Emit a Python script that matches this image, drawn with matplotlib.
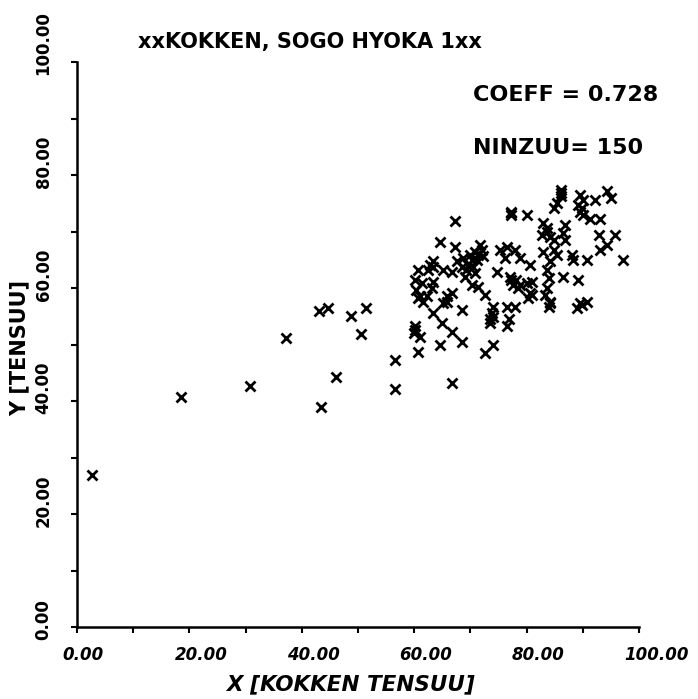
import matplotlib
matplotlib.use("Agg")
import matplotlib.pyplot as plt
from matplotlib.transforms import ScaledTranslation

# kokken tensuu (x) / sogo hyoka tensuu (y)
xs = [2.7, 18.5, 30.8, 37.2, 43.1, 44.7, 48.8, 51.4, 50.5, 46.1, 43.4,
      56.6, 66.7, 56.6,
      86.1, 86.2, 85.4, 84.8, 89.5, 90.1, 89.2, 89.5, 90.1, 92.2, 94.3, 95.1,
      91.3, 93.1, 77.3, 77.3, 80.0, 67.3, 83.0, 83.6, 82.7, 84.2, 84.8, 86.8,
      86.5, 86.8, 92.8, 95.7, 93.1, 94.3, 97.2, 64.6, 67.3, 63.4, 62.8, 60.7,
      60.1, 60.4, 61.0, 61.6, 62.5, 65.2, 66.7, 67.6, 68.7, 69.9, 70.8, 71.7,
      72.0, 71.1, 70.5, 69.3, 69.0, 70.2, 71.4, 72.6, 63.4, 63.1, 65.8, 65.2,
      66.7, 68.5, 75.3, 76.5, 77.9, 76.2, 78.8, 80.6, 74.7, 77.1, 78.2, 77.6,
      78.5, 80.0, 80.9, 80.6, 80.3, 83.0, 84.8, 85.4, 84.2, 83.6, 83.9, 83.6,
      83.3, 84.2, 83.9, 86.5, 88.0, 88.3, 89.2, 90.7, 89.5, 90.7, 88.9, 63.4,
      64.9, 66.7, 64.6, 68.5, 60.7, 60.1, 59.9, 61.0, 74.1, 73.8, 73.5, 74.1,
      76.5, 77.9, 76.8, 76.5, 72.6, 74.1,
      70.2, 69.6, 71.4, 68.5, 72.3, 70.8, 61.3, 60.7, 62.2, 77.3, 78.8, 80.9,
      63.4, 65.8, 86.2, 89.8, 83.6, 73.5, 60.1, 89.8, 84.2, 77.3]
ys = [26.9, 40.7, 42.7, 51.1, 55.9, 56.5, 55.0, 56.5, 51.9, 44.2, 38.9,
      47.3, 43.1, 42.2,
      77.4, 76.2, 75.0, 74.1, 76.5, 75.6, 74.7, 73.5, 72.9, 75.6, 77.1, 75.9,
      72.3, 72.3, 73.5, 72.9, 72.9, 71.8, 71.5, 70.6, 69.4, 69.1, 68.5, 71.2,
      69.7, 68.5, 69.4, 69.4, 66.7, 67.6, 65.0, 68.2, 67.3, 64.7, 64.1, 63.2,
      61.4, 59.7, 58.5, 57.6, 63.2, 63.2, 62.9, 64.7, 65.3, 65.9, 66.4, 67.6,
      66.7, 65.0, 63.8, 63.2, 62.0, 60.5, 60.2, 58.8, 61.1, 60.0, 58.5, 57.3,
      59.1, 56.1, 66.7, 67.3, 66.7, 65.3, 65.3, 64.1, 62.9, 62.0, 61.4, 60.5,
      60.0, 60.8, 61.1, 59.1, 58.2, 66.4, 66.7, 65.9, 64.7, 63.2, 61.7, 60.0,
      58.8, 57.6, 56.7, 62.0, 65.9, 65.0, 61.4, 65.0, 57.3, 57.6, 56.4, 55.5,
      53.8, 52.3, 49.9, 50.5, 48.7, 53.2, 52.0, 51.4, 56.7, 55.5, 53.8, 54.9,
      56.7, 56.7, 54.6, 53.2, 48.5, 49.9,
      65.0, 64.1, 65.9, 63.8, 65.6, 62.6, 60.8, 58.2, 58.5, 61.4, 60.5, 58.8,
      63.8, 57.6, 76.8, 74.1, 70.0, 54.6, 52.6, 57.0, 57.3, 73.2]

major_ticks = [0, 20, 40, 60, 80, 100]
minor_ticks = [10, 30, 50, 70, 90]
tick_labels = ["0.00", "20.00", "40.00", "60.00", "80.00", "100.00"]

fig = plt.figure(figsize=(6.98, 6.99), dpi=100)
ax = fig.add_axes([0.1103, 0.103, 0.8052, 0.8083])

ax.plot(xs, ys, linestyle="none", marker="x", markersize=6.5,
        markeredgewidth=2, color="black")

ax.set_xlim(0, 100)
ax.set_ylim(0, 100)
for s in ["top", "right"]:
    ax.spines[s].set_visible(False)
for s in ["left", "bottom"]:
    ax.spines[s].set_linewidth(1.8)

ax.set_xticks(major_ticks, tick_labels, fontsize=12, fontweight="bold",
              fontstyle="italic")
ax.set_yticks(major_ticks, tick_labels, fontsize=12, fontweight="bold",
              rotation=90)
ax.set_xticks(minor_ticks, minor=True)
ax.set_yticks(minor_ticks, minor=True)
ax.tick_params(which="both", direction="out", length=4.5, width=1.5)
ax.tick_params(axis="x", pad=9)
ax.tick_params(axis="y", pad=13)

for lbl in ax.get_xticklabels():
    lbl.set_horizontalalignment("left")
    lbl.set_transform(lbl.get_transform() +
                      ScaledTranslation(-0.15, 0, fig.dpi_scale_trans))
for lbl in ax.get_yticklabels():
    lbl.set_verticalalignment("bottom")
    lbl.set_transform(lbl.get_transform() +
                      ScaledTranslation(0, -0.13, fig.dpi_scale_trans))

ax.set_xlabel("X [KOKKEN TENSUU]", fontsize=15.5, fontweight="bold",
              fontstyle="italic", va="center")
ax.xaxis.set_label_coords(0.486, -0.101)
ax.set_ylabel("Y [TENSUU]", fontsize=15, fontweight="bold", va="center")
ax.yaxis.set_label_coords(-0.103, 0.494)

fig.text(0.198, 0.94, "xxKOKKEN, SOGO HYOKA 1xx", fontsize=15,
         fontweight="bold", va="center")
fig.text(0.678, 0.864, "COEFF = 0.728", fontsize=16, fontweight="bold",
         va="center")
fig.text(0.678, 0.788, "NINZUU= 150", fontsize=16, fontweight="bold",
         va="center")

fig.savefig("out.png", dpi=100, facecolor="white")
